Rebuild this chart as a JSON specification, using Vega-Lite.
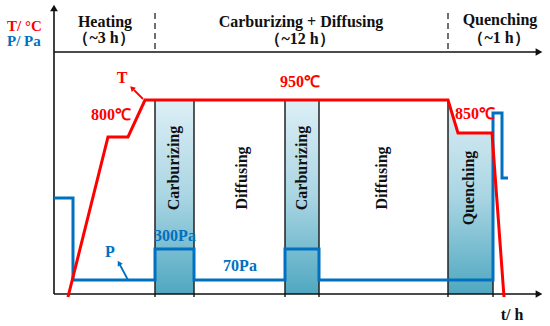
{
  "$schema": "https://vega.github.io/schema/vega-lite/v6.json",
  "width": 550,
  "height": 326,
  "padding": 0,
  "autosize": {"type": "fit", "contains": "padding"},
  "background": "white",
  "view": {"stroke": null},
  "datasets": {
    "bands": [{"name": "Carburizing 1", "t1": 155, "t2": 194, "top": 100, "bottom": 294}, {"name": "Carburizing 2", "t1": 285, "t2": 319, "top": 100, "bottom": 294}],
    "quench": [{"t": 448, "v": 100, "b": 294}, {"t": 458, "v": 133, "b": 294}, {"t": 493, "v": 133, "b": 294}],
    "edges": [
      {"t": 155, "v1": 100, "v2": 297}, {"t": 194, "v1": 100, "v2": 297},
      {"t": 285, "v1": 100, "v2": 297}, {"t": 319, "v1": 100, "v2": 297},
      {"t": 448, "v1": 100, "v2": 297}, {"t": 493, "v1": 133, "v2": 297}
    ],
    "axes": [
      {"t1": 54, "v1": 8, "t2": 54, "v2": 294},
      {"t1": 54, "v1": 294, "t2": 538, "v2": 294},
      {"t1": 54, "v1": 52, "t2": 538, "v2": 52}
    ],
    "dashes": [{"t": 155, "v1": 13, "v2": 52}, {"t": 448, "v1": 13, "v2": 52}],
    "Pline": [
      {"o": 1, "t": 54, "v": 198}, {"o": 2, "t": 73, "v": 198}, {"o": 3, "t": 73, "v": 280},
      {"o": 4, "t": 155, "v": 280}, {"o": 5, "t": 155, "v": 249}, {"o": 6, "t": 194, "v": 249},
      {"o": 7, "t": 194, "v": 280}, {"o": 8, "t": 285, "v": 280}, {"o": 9, "t": 285, "v": 249},
      {"o": 10, "t": 319, "v": 249}, {"o": 11, "t": 319, "v": 280}, {"o": 12, "t": 493, "v": 280},
      {"o": 13, "t": 493, "v": 113}, {"o": 14, "t": 502, "v": 113}, {"o": 15, "t": 502, "v": 178},
      {"o": 16, "t": 508, "v": 178}
    ],
    "Tline": [
      {"o": 1, "t": 68, "v": 297}, {"o": 2, "t": 108, "v": 137}, {"o": 3, "t": 128, "v": 137},
      {"o": 4, "t": 145, "v": 100}, {"o": 5, "t": 448, "v": 100}, {"o": 6, "t": 458, "v": 133},
      {"o": 7, "t": 492, "v": 133}, {"o": 8, "t": 504, "v": 297}
    ],
    "shafts": [
      {"s": "T", "t1": 143, "v1": 99, "t2": 134, "v2": 90},
      {"s": "P", "t1": 128, "v1": 280, "t2": 120, "v2": 265}
    ],
    "labels": [
      {"label": "Heating", "t": 105, "v": 22, "s": "K"},
      {"label": "（~3 h）", "t": 104, "v": 38, "s": "K"},
      {"label": "Carburizing + Diffusing", "t": 301, "v": 22, "s": "K"},
      {"label": "（~12 h）", "t": 300, "v": 39, "s": "K"},
      {"label": "Quenching", "t": 500, "v": 20, "s": "K"},
      {"label": "（~1 h）", "t": 499, "v": 38, "s": "K"},
      {"label": "t/ h", "t": 512, "v": 315, "s": "K"},
      {"label": "950℃", "t": 300, "v": 82, "s": "T"},
      {"label": "800℃", "t": 111, "v": 115, "s": "T"},
      {"label": "850℃", "t": 475, "v": 114, "s": "T"},
      {"label": "T", "t": 122, "v": 78, "s": "T"},
      {"label": "P", "t": 110, "v": 252, "s": "P"},
      {"label": "300Pa", "t": 175, "v": 236, "s": "P"},
      {"label": "70Pa", "t": 240, "v": 266, "s": "P"}
    ],
    "vlabels": [
      {"label": "Carburizing", "t": 174, "v": 168},
      {"label": "Diffusing", "t": 242, "v": 178},
      {"label": "Carburizing", "t": 302, "v": 168},
      {"label": "Diffusing", "t": 382, "v": 178},
      {"label": "Quenching", "t": 469, "v": 188}
    ],
    "unitlabels": [
      {"label": "T/ °C", "t": 7, "v": 25.5, "s": "T"},
      {"label": "P/ Pa", "t": 7, "v": 41, "s": "P"}
    ]
  },
  "layer": [
    {
      "data": {"name": "bands"},
      "mark": {"type": "rect", "color": {"gradient": "linear", "x1": 0, "y1": 0, "x2": 0, "y2": 1, "stops": [{"offset": 0, "color": "#DDEFF6"}, {"offset": 0.5, "color": "#A9D5E3"}, {"offset": 1, "color": "#4FA8C0"}]}},
      "encoding": {
        "x": {"field": "t1", "type": "quantitative", "scale": {"domain": [0, 550], "nice": false, "zero": false}, "axis": null},
        "x2": {"field": "t2"},
        "y": {"field": "top", "type": "quantitative", "scale": {"domain": [0, 326], "nice": false, "zero": false, "reverse": true}, "axis": null},
        "y2": {"field": "bottom"}
      }
    },
    {
      "data": {"name": "quench"},
      "mark": {"type": "area", "orient": "vertical", "color": {"gradient": "linear", "x1": 0, "y1": 0, "x2": 0, "y2": 1, "stops": [{"offset": 0, "color": "#DDEFF6"}, {"offset": 0.5, "color": "#A9D5E3"}, {"offset": 1, "color": "#4FA8C0"}]}},
      "encoding": {
        "x": {"field": "t", "type": "quantitative", "axis": null},
        "y": {"field": "v", "type": "quantitative", "axis": null},
        "y2": {"field": "b"}
      }
    },
    {
      "data": {"name": "edges"},
      "mark": {"type": "rule", "color": "#222222", "strokeWidth": 1.5},
      "encoding": {
        "x": {"field": "t", "type": "quantitative"},
        "y": {"field": "v1", "type": "quantitative"},
        "y2": {"field": "v2"}
      }
    },
    {
      "data": {"name": "axes"},
      "mark": {"type": "rule", "color": "#111111", "strokeWidth": 1.6},
      "encoding": {
        "x": {"field": "t1", "type": "quantitative"},
        "x2": {"field": "t2"},
        "y": {"field": "v1", "type": "quantitative"},
        "y2": {"field": "v2"}
      }
    },
    {
      "data": {"name": "dashes"},
      "mark": {"type": "rule", "color": "#222222", "strokeWidth": 1.3, "strokeDash": [6, 4]},
      "encoding": {
        "x": {"field": "t", "type": "quantitative"},
        "y": {"field": "v1", "type": "quantitative"},
        "y2": {"field": "v2"}
      }
    },
    {
      "data": {"values": [{"t": 54, "v": 8}]},
      "mark": {"type": "point", "shape": "triangle-up", "filled": true, "color": "#111111", "size": 60, "opacity": 1},
      "encoding": {"x": {"field": "t", "type": "quantitative"}, "y": {"field": "v", "type": "quantitative"}}
    },
    {
      "data": {"values": [{"t": 539, "v": 52}, {"t": 539, "v": 294}]},
      "mark": {"type": "point", "shape": "triangle-right", "filled": true, "color": "#111111", "size": 60, "opacity": 1},
      "encoding": {"x": {"field": "t", "type": "quantitative"}, "y": {"field": "v", "type": "quantitative"}}
    },
    {
      "data": {"name": "Pline"},
      "mark": {"type": "line", "color": "#0070C0", "strokeWidth": 3, "strokeJoin": "miter", "strokeCap": "butt"},
      "encoding": {
        "x": {"field": "t", "type": "quantitative"},
        "y": {"field": "v", "type": "quantitative"},
        "order": {"field": "o", "type": "quantitative"}
      }
    },
    {
      "data": {"name": "Tline"},
      "mark": {"type": "line", "color": "#FF0000", "strokeWidth": 3, "strokeJoin": "miter", "strokeCap": "butt"},
      "encoding": {
        "x": {"field": "t", "type": "quantitative"},
        "y": {"field": "v", "type": "quantitative"},
        "order": {"field": "o", "type": "quantitative"}
      }
    },
    {
      "data": {"name": "shafts"},
      "mark": {"type": "rule", "strokeWidth": 1.8},
      "encoding": {
        "x": {"field": "t1", "type": "quantitative"},
        "x2": {"field": "t2"},
        "y": {"field": "v1", "type": "quantitative"},
        "y2": {"field": "v2"},
        "color": {"field": "s", "type": "nominal", "scale": {"domain": ["T", "P", "K"], "range": ["#FF0000", "#0070C0", "#111111"]}, "legend": null}
      }
    },
    {
      "data": {"values": [{"t": 132, "v": 88}]},
      "mark": {"type": "point", "shape": "triangle-up", "filled": true, "color": "#FF0000", "size": 35, "opacity": 1, "angle": 315},
      "encoding": {"x": {"field": "t", "type": "quantitative"}, "y": {"field": "v", "type": "quantitative"}}
    },
    {
      "data": {"values": [{"t": 119, "v": 263}]},
      "mark": {"type": "point", "shape": "triangle-up", "filled": true, "color": "#0070C0", "size": 35, "opacity": 1, "angle": 330},
      "encoding": {"x": {"field": "t", "type": "quantitative"}, "y": {"field": "v", "type": "quantitative"}}
    },
    {
      "data": {"name": "labels"},
      "mark": {"type": "text", "font": "Liberation Serif", "fontWeight": "bold", "fontSize": 16, "align": "center", "baseline": "middle"},
      "encoding": {
        "x": {"field": "t", "type": "quantitative"},
        "y": {"field": "v", "type": "quantitative"},
        "text": {"field": "label"},
        "color": {"field": "s", "type": "nominal", "scale": {"domain": ["T", "P", "K"], "range": ["#FF0000", "#0070C0", "#111111"]}, "legend": null}
      }
    },
    {
      "data": {"name": "unitlabels"},
      "mark": {"type": "text", "font": "Liberation Serif", "fontWeight": "bold", "fontSize": 15, "align": "left", "baseline": "middle"},
      "encoding": {
        "x": {"field": "t", "type": "quantitative"},
        "y": {"field": "v", "type": "quantitative"},
        "text": {"field": "label"},
        "color": {"field": "s", "type": "nominal", "scale": {"domain": ["T", "P", "K"], "range": ["#FF0000", "#0070C0", "#111111"]}, "legend": null}
      }
    },
    {
      "data": {"name": "vlabels"},
      "mark": {"type": "text", "font": "Liberation Serif", "fontWeight": "bold", "fontSize": 16, "align": "center", "baseline": "middle", "angle": 270, "color": "#111111"},
      "encoding": {
        "x": {"field": "t", "type": "quantitative"},
        "y": {"field": "v", "type": "quantitative"},
        "text": {"field": "label"}
      }
    }
  ]
}
